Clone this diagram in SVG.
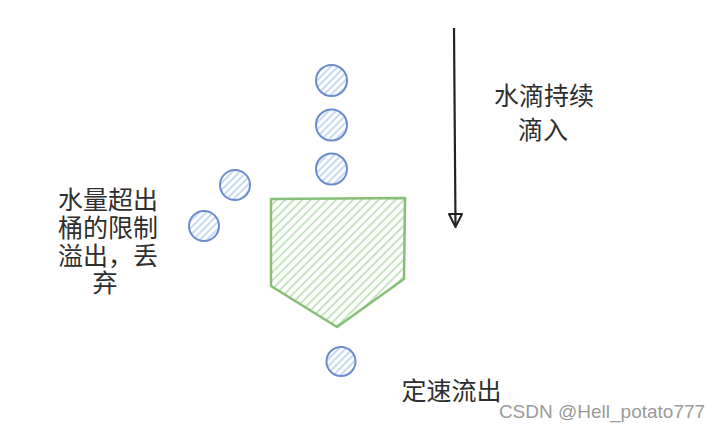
<svg xmlns="http://www.w3.org/2000/svg" width="721" height="440" viewBox="0 0 721 440">
<style>
.drop{fill:url(#hb);stroke:#6a8ccc;stroke-width:2}
.t{font-family:"Noto Sans CJK SC","Liberation Sans",sans-serif;font-size:25px;fill:#2e2e2e;text-anchor:middle}
</style>
<defs>
<pattern id="hb" width="5" height="5" patternUnits="userSpaceOnUse" patternTransform="rotate(45)">
<rect width="5" height="5" fill="#fff"/>
<line x1="1" y1="0" x2="1" y2="5" stroke="#b9d3f0" stroke-width="1.6"/>
</pattern>
<pattern id="hg" width="6" height="6" patternUnits="userSpaceOnUse" patternTransform="rotate(45)">
<rect width="6" height="6" fill="#fff"/>
<line x1="1" y1="0" x2="1" y2="6" stroke="#bfe3b8" stroke-width="1.8"/>
</pattern>
<marker id="ah" markerWidth="14" markerHeight="14" refX="7" refY="12" orient="auto" markerUnits="userSpaceOnUse" viewBox="0 0 14 14">
<path d="M1,2 L7,12 L13,2 Z" fill="none" stroke="#222" stroke-width="2" stroke-linejoin="round" transform="rotate(-90 7 7)"/>
</marker>
</defs>
<rect width="721" height="440" fill="#fff"/>
<g id="bucket">
<path d="M271,199 L405,198 L404,279 L337,327 L271,286 Z" fill="url(#hg)" stroke="#86c076" stroke-width="2.5" stroke-linejoin="round"/>
</g>
<g id="drop1"><circle class="drop" cx="331.5" cy="80.5" r="15.5"/></g>
<g id="drop2"><circle class="drop" cx="331.5" cy="125" r="15.5"/></g>
<g id="drop3"><circle class="drop" cx="331.5" cy="169" r="15.5"/></g>
<g id="drop4"><circle class="drop" cx="235" cy="185" r="15"/></g>
<g id="drop5"><circle class="drop" cx="204" cy="226" r="15"/></g>
<g id="drop6"><circle class="drop" cx="341" cy="361.5" r="14.5"/></g>
<g id="connectors">
<line x1="454" y1="28" x2="455.5" y2="226" stroke="#222" stroke-width="2.2"/>
<path d="M449,214 L455.5,227 L462,214 Z" fill="none" stroke="#222" stroke-width="2" stroke-linejoin="round"/>
</g>
<g id="label-in">
<text class="t" x="544" y="105">水滴持续</text>
<text class="t" x="543" y="139">滴入</text>
</g>
<g id="label-overflow">
<text class="t" x="108" y="209">水量超出</text>
<text class="t" x="108" y="237">桶的限制</text>
<text class="t" x="108" y="265">溢出，丢</text>
<text class="t" x="105" y="292">弃</text>
</g>
<g id="label-out">
<text class="t" x="451.5" y="400">定速流出</text>
</g>
<text x="602" y="418" font-family="Liberation Sans, Arial, sans-serif" font-size="19" fill="#9a9a9a" text-anchor="middle">CSDN @Hell_potato777</text>
</svg>
